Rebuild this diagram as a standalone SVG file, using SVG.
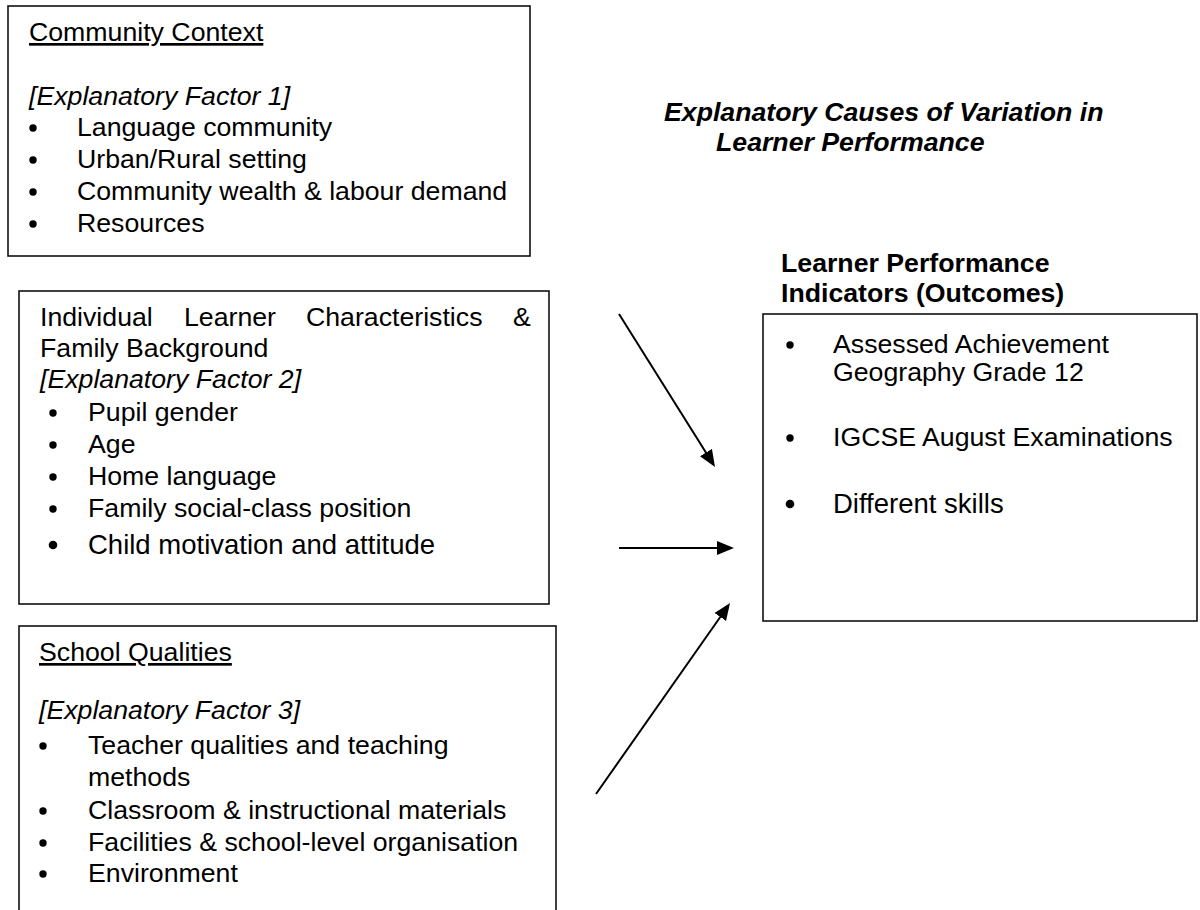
<svg xmlns="http://www.w3.org/2000/svg" width="1200" height="910" viewBox="0 0 1200 910">
  <defs>
    <style>
      .t { font-family: "Liberation Sans", Arial, sans-serif; font-size: 26.7px; fill: #000; }
      .big { font-size: 27.5px; }
      .i { font-style: italic; }
      .b { font-weight: bold; }
      .u { text-decoration: underline; }
      .box { fill: #fff; stroke: #111; stroke-width: 1.6; }
      .dot { fill: #000; }
      .arrow { stroke: #000; stroke-width: 2; fill: none; marker-end: url(#head); }
    </style>
    <!-- solid triangular arrowhead; the line stops 10px short of the tip -->
    <marker id="head" markerUnits="userSpaceOnUse" markerWidth="17" markerHeight="15" refX="7" refY="7.5" orient="auto">
      <path d="M0,0.5 L17,7.5 L0,14.5 z" fill="#000"/>
    </marker>
  </defs>

  <rect width="1200" height="910" fill="#fff"/>

  <!-- Explanatory factor 1 -->
  <g id="node-community">
    <rect class="box" x="8" y="6" width="522" height="250"/>
    <text class="t u" x="29" y="41">Community Context</text>
    <text class="t i" x="29" y="105">[Explanatory Factor 1]</text>
    <circle class="dot" cx="33" cy="128" r="3.7"/>
    <text class="t" x="77" y="136">Language community</text>
    <circle class="dot" cx="33" cy="160" r="3.7"/>
    <text class="t" x="77" y="168">Urban/Rural setting</text>
    <circle class="dot" cx="33" cy="192" r="3.7"/>
    <text class="t" x="77" y="200">Community wealth &amp; labour demand</text>
    <circle class="dot" cx="33" cy="224" r="3.7"/>
    <text class="t" x="77" y="232">Resources</text>
  </g>

  <!-- Explanatory factor 2 -->
  <g id="node-learner">
    <rect class="box" x="19" y="291" width="530" height="313"/>
    <text class="t" y="326"><tspan x="40">Individual</tspan><tspan x="184">Learner</tspan><tspan x="306">Characteristics</tspan><tspan x="513">&amp;</tspan></text>
    <text class="t" x="40" y="357">Family Background</text>
    <text class="t i" x="40" y="388">[Explanatory Factor 2]</text>
    <circle class="dot" cx="53" cy="413" r="3.7"/>
    <text class="t" x="88" y="421">Pupil gender</text>
    <circle class="dot" cx="53" cy="445" r="3.7"/>
    <text class="t" x="88" y="453">Age</text>
    <circle class="dot" cx="53" cy="477" r="3.7"/>
    <text class="t" x="88" y="485">Home language</text>
    <circle class="dot" cx="53" cy="509" r="3.7"/>
    <text class="t" x="88" y="517">Family social-class position</text>
    <circle class="dot" cx="53" cy="545" r="4.3"/>
    <text class="t big" x="88" y="554">Child motivation and attitude</text>
  </g>

  <!-- Explanatory factor 3 (box runs past the lower edge) -->
  <g id="node-school">
    <rect class="box" x="19" y="626" width="537" height="310"/>
    <text class="t u" x="39" y="661">School Qualities</text>
    <text class="t i" x="39" y="719">[Explanatory Factor 3]</text>
    <circle class="dot" cx="43" cy="746" r="3.7"/>
    <text class="t" x="88" y="754">Teacher qualities and teaching</text>
    <text class="t" x="88" y="786">methods</text>
    <circle class="dot" cx="43" cy="811" r="3.7"/>
    <text class="t" x="88" y="819">Classroom &amp; instructional materials</text>
    <circle class="dot" cx="43" cy="843" r="3.7"/>
    <text class="t" x="88" y="851">Facilities &amp; school-level organisation</text>
    <circle class="dot" cx="43" cy="874" r="3.7"/>
    <text class="t" x="88" y="882">Environment</text>
  </g>

  <!-- Heading -->
  <g id="node-title">
    <text class="t b i" x="664" y="121">Explanatory Causes of Variation in</text>
    <text class="t b i" x="716" y="151">Learner Performance</text>
  </g>

  <!-- Outcomes -->
  <g id="node-outcomes">
    <text class="t b" x="781" y="272">Learner Performance</text>
    <text class="t b" x="781" y="302">Indicators (Outcomes)</text>
    <rect class="box" x="763" y="314" width="434" height="307"/>
    <circle class="dot" cx="790" cy="345" r="3.7"/>
    <text class="t" x="833" y="353">Assessed Achievement</text>
    <text class="t" x="833" y="381">Geography Grade 12</text>
    <circle class="dot" cx="790" cy="438" r="3.7"/>
    <text class="t" x="833" y="446">IGCSE August Examinations</text>
    <circle class="dot" cx="790" cy="504" r="4.3"/>
    <text class="t big" x="833" y="513">Different skills</text>
  </g>

  <!-- Connectors -->
  <g id="connectors">
    <line class="arrow" x1="619" y1="314" x2="709.7" y2="458.5"/>
    <line class="arrow" x1="619" y1="548" x2="724" y2="548"/>
    <line class="arrow" x1="596" y1="794" x2="724.3" y2="611.2"/>
  </g>
</svg>
